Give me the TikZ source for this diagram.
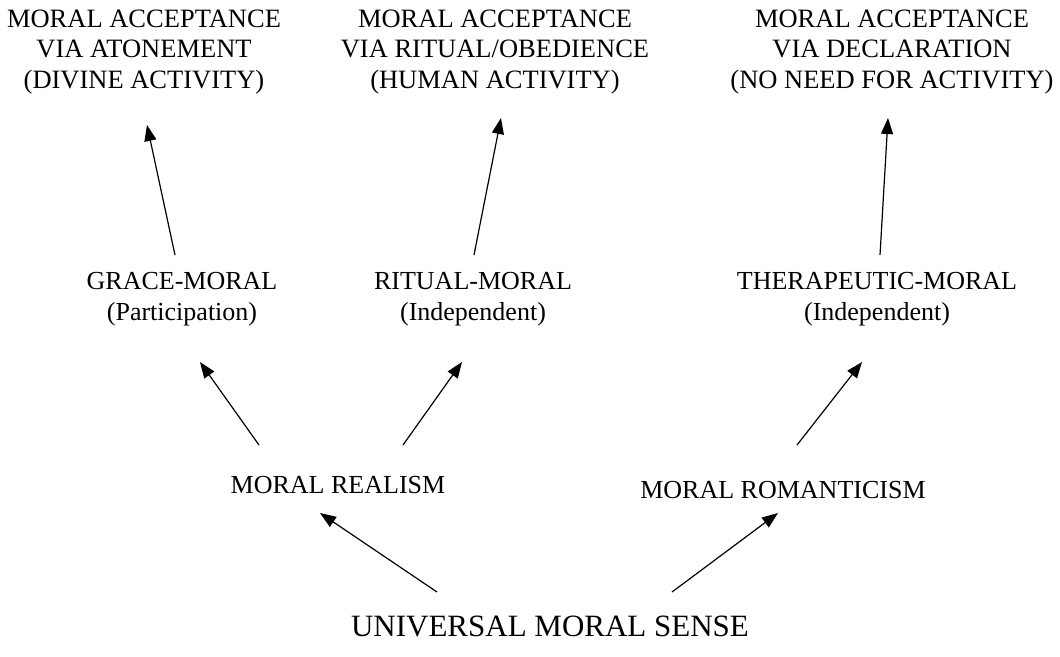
\documentclass[tikz,border=0pt]{standalone}
\usepackage{fontspec}
\setmainfont{Liberation Serif}
\usetikzlibrary{arrows.meta}
\begin{document}
\begin{tikzpicture}[x=1pt,y=-1pt,
  lbl/.style={inner sep=0pt,align=center,font=\fontsize{26}{30.5}\selectfont},
  top/.style={inner sep=0pt,align=center,font=\fontsize{26.5}{30.5}\selectfont},
  big/.style={inner sep=0pt,align=center,font=\fontsize{31}{36}\selectfont},
  arr/.style={-{Triangle[length=16pt,width=12pt]},line width=1.2pt}]
\useasboundingbox (0,0) rectangle (1060,656);
\node[top] (t1) at (144,52) {MORAL ACCEPTANCE\\VIA ATONEMENT\\(DIVINE ACTIVITY)};
\node[top] (t2) at (495,52) {MORAL ACCEPTANCE\\VIA RITUAL/OBEDIENCE\\(HUMAN ACTIVITY)};
\node[top] (t3) at (892,52) {MORAL ACCEPTANCE\\VIA DECLARATION\\(NO NEED FOR ACTIVITY)};
\node[lbl] (g) at (182,299) {GRACE-MORAL\\(Participation)};
\node[lbl] (r) at (473,299) {RITUAL-MORAL\\(Independent)};
\node[lbl] (th) at (877,299) {THERAPEUTIC-MORAL\\(Independent)};
\node[lbl] (real) at (338,485) {MORAL REALISM};
\node[lbl] (rom) at (783,490) {MORAL ROMANTICISM};
\node[big] (u) at (550,626) {UNIVERSAL MORAL SENSE};
\coordinate (u1) at (437,592); \coordinate (real1) at (320,513);
\coordinate (u2) at (672,592); \coordinate (rom1) at (778,513);
\coordinate (real2) at (259,445); \coordinate (g1) at (200,362);
\coordinate (real3) at (403,445); \coordinate (r1) at (462,362);
\coordinate (rom2) at (797,445); \coordinate (th1) at (862,362);
\coordinate (g2) at (175,255); \coordinate (t1a) at (147,125);
\coordinate (r2) at (474,255); \coordinate (t2a) at (501,118);
\coordinate (th2) at (880,255); \coordinate (t3a) at (888,118);
\draw[arr] (u1) -- (real1);
\draw[arr] (u2) -- (rom1);
\draw[arr] (real2) -- (g1);
\draw[arr] (real3) -- (r1);
\draw[arr] (rom2) -- (th1);
\draw[arr] (g2) -- (t1a);
\draw[arr] (r2) -- (t2a);
\draw[arr] (th2) -- (t3a);
\end{tikzpicture}
\end{document}
